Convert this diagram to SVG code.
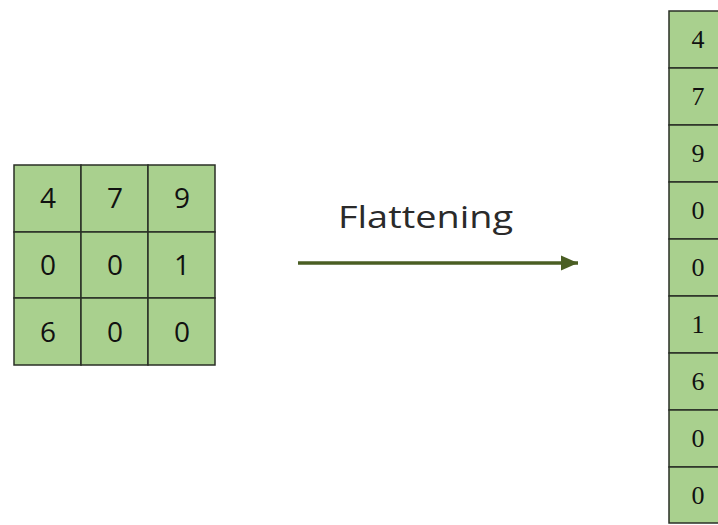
<svg xmlns="http://www.w3.org/2000/svg" width="718" height="525" viewBox="0 0 718 525">
  <style>
    .cell { fill: #a9d08e; stroke: #2a2f26; stroke-width: 1.5; }
    .num { font-family: "Open Sans", "DejaVu Sans", sans-serif; font-size: 28px; fill: #111; text-anchor: middle; }
    .snum { font-family: "Liberation Serif", "DejaVu Serif", serif; font-size: 26px; fill: #111; text-anchor: middle; }
    .label { font-family: "Open Sans", "Noto Sans", sans-serif; font-size: 31px; fill: #2a2a2a; }
    .conn { stroke: #4a5e23; stroke-width: 3.5; fill: none; }
  </style>
  <defs>
    <marker id="arrow" markerWidth="6" markerHeight="6" refX="5" refY="3" orient="auto" markerUnits="strokeWidth">
      <path d="M0,0.8 L5,3 L0,5.2 Z" fill="#4a5e23"/>
    </marker>
  </defs>
  <rect width="718" height="525" fill="#ffffff"/>

  <!-- 3x3 input matrix -->
  <g id="matrix">
    <rect class="cell" x="14" y="165" width="67" height="67"/>
    <rect class="cell" x="81" y="165" width="67" height="67"/>
    <rect class="cell" x="148" y="165" width="67" height="67"/>
    <rect class="cell" x="14" y="232" width="67" height="66"/>
    <rect class="cell" x="81" y="232" width="67" height="66"/>
    <rect class="cell" x="148" y="232" width="67" height="66"/>
    <rect class="cell" x="14" y="298" width="67" height="67"/>
    <rect class="cell" x="81" y="298" width="67" height="67"/>
    <rect class="cell" x="148" y="298" width="67" height="67"/>
    <text class="num" x="48" y="208">4</text>
    <text class="num" x="115" y="208">7</text>
    <text class="num" x="182" y="208">9</text>
    <text class="num" x="48" y="275">0</text>
    <text class="num" x="115" y="275">0</text>
    <text class="num" x="182" y="275">1</text>
    <text class="num" x="48" y="342">6</text>
    <text class="num" x="115" y="342">0</text>
    <text class="num" x="182" y="342">0</text>
  </g>

  <!-- flattening arrow -->
  <g id="connectors">
    <line class="conn" x1="298" y1="263" x2="578" y2="263" marker-end="url(#arrow)"/>
  </g>
  <g id="label">
    <text class="label" x="338" y="228" textLength="175" lengthAdjust="spacingAndGlyphs">Flattening</text>
  </g>

  <!-- flattened column vector -->
  <g id="vector">
    <rect class="cell" x="669" y="11" width="60" height="57"/>
    <rect class="cell" x="669" y="68" width="60" height="57"/>
    <rect class="cell" x="669" y="125" width="60" height="57"/>
    <rect class="cell" x="669" y="182" width="60" height="57"/>
    <rect class="cell" x="669" y="239" width="60" height="57"/>
    <rect class="cell" x="669" y="296" width="60" height="57"/>
    <rect class="cell" x="669" y="353" width="60" height="57"/>
    <rect class="cell" x="669" y="410" width="60" height="57"/>
    <rect class="cell" x="669" y="467" width="60" height="56"/>
    <text class="snum" x="698" y="48">4</text>
    <text class="snum" x="698" y="105">7</text>
    <text class="snum" x="698" y="162">9</text>
    <text class="snum" x="698" y="219">0</text>
    <text class="snum" x="698" y="276">0</text>
    <text class="snum" x="698" y="333">1</text>
    <text class="snum" x="698" y="390">6</text>
    <text class="snum" x="698" y="447">0</text>
    <text class="snum" x="698" y="504">0</text>
  </g>
</svg>
